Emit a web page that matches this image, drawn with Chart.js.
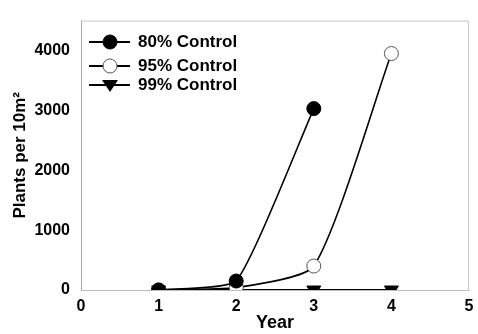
<!DOCTYPE html>
<html>
<head>
<meta charset="utf-8">
<script src="https://cdn.jsdelivr.net/npm/chart.js@4"></script>
<style>
  html, body { margin: 0; padding: 0; background: #fff; }
  #wrap { width: 478px; height: 334px; }
</style>
</head>
<body>
<div id="wrap"><canvas id="chart" width="478" height="334"></canvas></div>
<script>
// ==========================================
// DATA
// ==========================================
const years = [1, 2, 3, 4];

// VARIABLE: control_80 (years 1-3)
const control_80 = [0, 150, 3030];

// VARIABLE: control_95 (years 1-4)
const control_95 = [0, 40, 400, 3950];

// VARIABLE: control_99 (years 1-4)
const control_99 = [0, 0, 0, 0];

const seriesLabels = ['80% Control', '95% Control', '99% Control'];
const xTicks = [0, 1, 2, 3, 4, 5];
const yTicks = [0, 1000, 2000, 3000, 4000];

const toPoints = vals => vals.map((v, i) => ({ x: years[i], y: v }));

const FONT = '"Liberation Sans", Arial, sans-serif';

// ==========================================
// FRAME + LEGEND PLUGIN
// ==========================================
const framePlugin = {
    id: 'frame',
    beforeDatasetsDraw(chart) {
        const { ctx, chartArea: a } = chart;
        ctx.save();
        ctx.strokeStyle = '#c8c8c8';
        ctx.lineWidth = 1;
        ctx.beginPath();
        ctx.moveTo(a.left, a.top + 0.5);
        ctx.lineTo(a.right - 0.5, a.top + 0.5);
        ctx.lineTo(a.right - 0.5, a.bottom);
        ctx.stroke();
        ctx.restore();
    },
    afterDraw(chart) {
        const { ctx } = chart;
        const rows = [42, 66, 85];
        ctx.save();
        chart.data.datasets.forEach((ds, i) => {
            const y = rows[i];
            ctx.strokeStyle = '#000';
            ctx.lineWidth = 2;
            ctx.beginPath();
            ctx.moveTo(89, y);
            ctx.lineTo(130, y);
            ctx.stroke();
            ctx.lineWidth = 1;
            ctx.beginPath();
            if (ds.pointStyle === 'triangle') {
                ctx.moveTo(102, y - 5);
                ctx.lineTo(118, y - 5);
                ctx.lineTo(110, y + 7);
                ctx.closePath();
                ctx.fillStyle = '#000';
                ctx.fill();
            } else {
                ctx.fillStyle = ds.pointBackgroundColor;
                ctx.strokeStyle = ds.pointBorderColor;
                ctx.arc(110, y, 7, 0, Math.PI * 2);
                ctx.fill();
                ctx.stroke();
            }
            ctx.fillStyle = '#000';
            ctx.font = 'bold 17px ' + FONT;
            ctx.textBaseline = 'middle';
            ctx.fillText(seriesLabels[i], 138, y);
        });
        ctx.restore();
    }
};

// ==========================================
// CHART
// ==========================================
new Chart(document.getElementById('chart'), {
    type: 'line',
    data: {
        datasets: [
            {
                label: seriesLabels[0],
                data: toPoints(control_80),
                borderColor: '#000',
                borderWidth: 1.6,
                tension: 0.15,
                pointStyle: 'circle',
                pointRadius: 7,
                pointBackgroundColor: '#000',
                pointBorderColor: '#000',
                pointBorderWidth: 1
            },
            {
                label: seriesLabels[1],
                data: toPoints(control_95),
                borderColor: '#000',
                borderWidth: 1.6,
                tension: 0.2,
                pointStyle: 'circle',
                pointRadius: 7,
                pointBackgroundColor: '#fff',
                pointBorderColor: '#555',
                pointBorderWidth: 1
            },
            {
                label: seriesLabels[2],
                data: toPoints(control_99),
                borderColor: '#000',
                borderWidth: 2,
                tension: 0,
                pointStyle: 'triangle',
                pointRotation: 180,
                pointRadius: 8,
                pointBackgroundColor: '#000',
                pointBorderColor: '#000',
                pointBorderWidth: 1
            }
        ]
    },
    options: {
        responsive: false,
        animation: false,
        layout: { padding: { left: 0, right: 2, top: 15, bottom: 0 } },
        plugins: {
            legend: { display: false },
            tooltip: { enabled: false }
        },
        scales: {
            x: {
                type: 'linear',
                min: 0,
                max: 5,
                afterBuildTicks: s => { s.ticks = xTicks.map(v => ({ value: v })); },
                afterFit: s => { s.height = 44; s.paddingRight = 0; s.paddingLeft = 0; },
                grid: { display: false, drawTicks: false },
                border: { color: '#bdbdbd', width: 1 },
                ticks: {
                    color: '#000',
                    padding: 7,
                    callback: v => String(v),
                    font: { family: FONT, size: 16, weight: 'bold' }
                },
                title: {
                    display: true,
                    text: 'Year',
                    color: '#000',
                    padding: { top: 0, bottom: 0 },
                    font: { family: FONT, size: 18, weight: 'bold' }
                }
            },
            y: {
                min: 0,
                max: 4500,
                afterBuildTicks: s => { s.ticks = yTicks.map(v => ({ value: v })); },
                afterFit: s => { s.width = 81; },
                grid: { display: false, drawTicks: false },
                border: { color: '#a8a8a8', width: 1 },
                ticks: {
                    color: '#000',
                    padding: 11,
                    callback: v => String(v),
                    font: { family: FONT, size: 16, weight: 'bold' }
                },
                title: {
                    display: true,
                    text: 'Plants per 10m\u00B2',
                    color: '#000',
                    padding: { top: 10, bottom: 0 },
                    font: { family: FONT, size: 17, weight: 'bold' }
                }
            }
        }
    },
    plugins: [framePlugin]
});
</script>
</body>
</html>
